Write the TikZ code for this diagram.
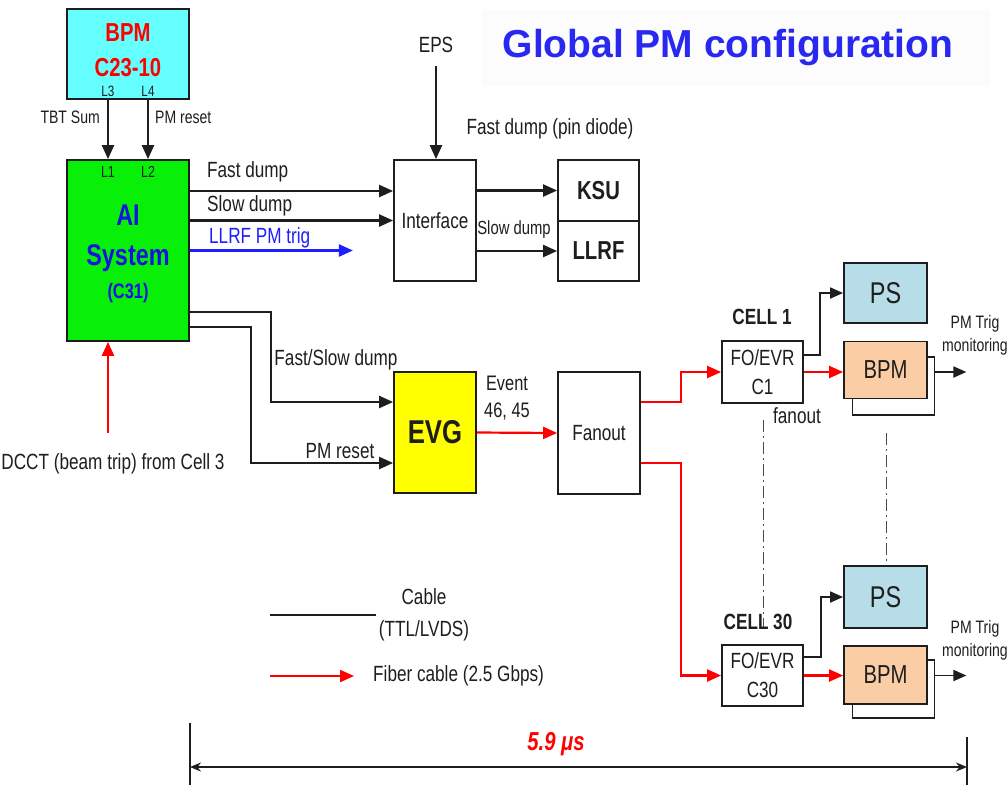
\documentclass[tikz,border=0pt]{standalone}
\usepackage{fontspec}
\setmainfont{Liberation Sans}[FakeStretch=0.78]
\newfontfamily\titlefont{Liberation Sans}
\usetikzlibrary{arrows.meta}
\definecolor{cyanbox}{RGB}{102,255,255}
\definecolor{aigreen}{RGB}{8,240,8}
\definecolor{aiblue}{RGB}{20,20,225}
\definecolor{titleblue}{RGB}{40,40,240}
\definecolor{trigblue}{RGB}{30,30,255}
\definecolor{fred}{RGB}{255,0,0}
\definecolor{psblue}{RGB}{183,221,232}
\definecolor{bpmpeach}{RGB}{251,205,165}
\definecolor{evgyellow}{RGB}{255,255,0}
\definecolor{ink}{RGB}{30,30,30}
\newcommand\fsz[2]{\fontsize{#1}{#2}\selectfont}
\begin{document}
\begin{tikzpicture}[x=1pt,y=-1pt,
  box/.style={draw=ink, line width=1.8pt, inner sep=0pt, text=ink},
  txt/.style={inner sep=0pt, text=ink, align=center},
  arr/.style={draw=ink, line width=2.2pt, -{Triangle[length=14pt,width=12pt]}},
  sarr/.style={draw=ink, line width=1.8pt, -{Triangle[length=13pt,width=11pt]}},
  rarr/.style={draw=fred, line width=2.2pt, -{Triangle[length=14pt,width=12pt]}},
  barr/.style={draw=trigblue, line width=2.2pt, -{Triangle[length=14pt,width=12pt]}},
  wire/.style={draw=ink, line width=2.2pt},
  dd/.style={draw=ink!80, line width=1pt, dash pattern=on 12pt off 4pt on 2pt off 4pt},
  dim/.style={draw=ink, line width=1.8pt, {Stealth[length=11pt,width=9pt]}-{Stealth[length=11pt,width=9pt]}},
  n22/.style={font=\fsz{22}{22}}
]
\fill[white] (0,0) rectangle (1008,785);
\useasboundingbox (0,0) rectangle (1008,785);
\fill[black!1.2] (482,10) rectangle (990,86);

% title
\node[txt, text=titleblue, font=\titlefont\bfseries\fsz{39}{39}] (title) at (728,47) {Global PM configuration};

% top BPM
\node[box, fill=cyanbox, minimum width=122pt, minimum height=90pt] (bpmtop) at (128,54) {};
\node[txt, text=fred, font=\bfseries\fsz{26}{35}] (bpmtxt) at (128,50) {BPM\\C23-10};
\node[txt, font=\fsz{15}{15}] (l3) at (108,91) {L3};
\node[txt, font=\fsz{15}{15}] (l4) at (148,91) {L4};

% AI system
\node[box, fill=aigreen, minimum width=122pt, minimum height=181pt] (ai) at (128,250.5) {};
\node[txt, font=\fsz{16}{16}] (l1) at (108,172) {L1};
\node[txt, font=\fsz{16}{16}] (l2) at (148,172) {L2};
\node[txt, text=aiblue, font=\bfseries\fsz{30}{30}] (ait1) at (128,215) {AI};
\node[txt, text=aiblue, font=\bfseries\fsz{30}{30}] (ait2) at (128,258) {System};
\node[txt, text=aiblue, font=\bfseries\fsz{21}{21}] (ait3) at (128,293) {(C31)};

\draw[arr] (l3 |- bpmtop.south) -- (l1 |- ai.north);
\draw[arr] (l4 |- bpmtop.south) -- (l2 |- ai.north);
\node[txt, font=\fsz{18}{18}, anchor=east] (tbt) at (100,117) {TBT Sum};
\node[txt, font=\fsz{18}{18}, anchor=west] (pmr1) at (155,117) {PM reset};

% interface and KSU/LLRF
\node[box, n22, minimum width=82pt, minimum height=121pt] (iface) at (435,220.5) {Interface};
\node[txt, n22] (eps) at (436,45) {EPS};
\draw[arr] ([yshift=-13pt]eps.south) -- (eps.south |- iface.north);
\node[box, font=\bfseries\fsz{26}{26}, minimum width=81pt, minimum height=61pt] (ksu) at (598.5,190.5) {KSU};
\node[box, font=\bfseries\fsz{26}{26}, minimum width=81pt, minimum height=60pt] (llrf) at (598.5,251) {LLRF};
\node[txt, n22] (pind) at (550,129) {Fast dump (pin diode)};
\node[txt, font=\fsz{19}{19}] (sdsmall) at (514,230) {Slow dump};
\draw[arr] (iface.east |- ksu.west) -- (ksu.west);
\draw[arr] (iface.east |- llrf.west) -- (llrf.west);

\coordinate (fdy) at (0,191);
\draw[arr] (ai.east |- fdy) -- (iface.west |- fdy);
\draw[arr] (ai.east |- iface.west) -- (iface.west);
\draw[barr] (ai.east) -- ++(163,0) coordinate (llrfend);
\node[txt, n22, anchor=west] (fdl) at (207,172) {Fast dump};
\node[txt, n22, anchor=west] (sdl) at (207,206) {Slow dump};
\node[txt, n22, anchor=west, text=trigblue] (trl) at (209,238) {LLRF PM trig};

% EVG and fanout
\node[box, fill=evgyellow, font=\bfseries\fsz{33}{33}, minimum width=82pt, minimum height=121pt] (evg) at (435,432.5) {EVG};
\node[box, n22, minimum width=82pt, minimum height=122pt] (fanout) at (599,433) {Fanout};
\draw[rarr] (evg.east) -- (fanout.west);
\node[txt, font=\fsz{21}{27}] (event) at (507,398) {Event\\46, 45};

\coordinate (k1) at (271,312);
\coordinate (k2) at (0,402);
\coordinate (k3) at (251,327);
\coordinate (k4) at (0,463);
\draw[arr] (ai.east |- k1) -- (k1) |- (evg.west |- k2);
\draw[arr] (ai.east |- k3) -- (k3) |- (evg.west |- k4);
\node[txt, n22] (fsd) at (336,360) {Fast/Slow dump};
\node[txt, n22] (pmr2) at (340,451) {PM reset};

\coordinate (dc) at (108,433);
\draw[rarr] (dc) -- (dc |- ai.south);
\node[txt, n22] (dcct) at (113,464) {DCCT (beam trip) from Cell 3};

% cell 1
\node[txt, font=\bfseries\fsz{22}{22}] (cell1) at (762,317) {CELL 1};
\node[box, font=\fsz{22}{29}, align=center, minimum width=81pt, minimum height=62pt] (fo1) at (762.5,372) {FO/EVR\\C1};
\node[box, fill=psblue, font=\fsz{30}{30}, minimum width=83pt, minimum height=60pt] (ps1) at (885.5,293) {PS};
\node[box, fill=white, minimum width=82pt, minimum height=58pt] (bpmb1) at (893.5,386) {};
\node[box, fill=bpmpeach, font=\fsz{26}{26}, minimum width=83pt, minimum height=57pt] (bpm1) at (885.5,370) {BPM};
\node[txt, font=\fsz{18}{23}] (mon1) at (975,335) {PM Trig\\monitoring};
\node[txt, n22] (fanl) at (797,416) {fanout};
\coordinate (g1) at (820,355);
\draw[sarr] (fo1.east |- g1) -- (g1) |- (ps1.west);
\draw[rarr] (fo1.east) -- (bpm1.west |- fo1.east);
\draw[sarr] (bpmb1.east |- fo1.east) -- ++(31,0) coordinate (m1);

% cell 30
\coordinate (d1a) at (763,420);
\coordinate (d1b) at (763,628);
\coordinate (d2a) at (886,433);
\coordinate (d2b) at (886,562);
\draw[dd] (d1a) -- (d1b);
\draw[dd] (d2a) -- (d2b);
\node[txt, font=\bfseries\fsz{22}{22}] (cell30) at (758,622) {CELL 30};
\node[box, font=\fsz{22}{29}, align=center, minimum width=81pt, minimum height=61pt] (fo30) at (762.5,675.5) {FO/EVR\\C30};
\node[box, fill=psblue, font=\fsz{30}{30}, minimum width=83pt, minimum height=62pt] (ps30) at (885.5,597) {PS};
\node[box, fill=white, minimum width=82pt, minimum height=58pt] (bpmb30) at (893.5,689) {};
\node[box, fill=bpmpeach, font=\fsz{26}{26}, minimum width=83pt, minimum height=58pt] (bpm30) at (885.5,675) {BPM};
\node[txt, font=\fsz{18}{23}] (mon30) at (975,640) {PM Trig\\monitoring};
\coordinate (g2) at (821,657);
\draw[sarr] (fo30.east |- g2) -- (g2) |- (ps30.west);
\draw[rarr] (fo30.east) -- (bpm30.west |- fo30.east);
\draw[sarr] (bpmb30.east |- fo30.east) -- ++(31,0) coordinate (m30);

% fanout to cells
\coordinate (fx1) at (681,402);
\coordinate (fx2) at (681,463);
\draw[rarr] (fanout.east |- fx1) -- (fx1) |- (fo1.west);
\draw[rarr] (fanout.east |- fx2) -- (fx2) |- (fo30.west);

% legend
\coordinate (la) at (270,615);
\coordinate (lb) at (376,615);
\draw[wire] (la) -- (lb);
\node[txt, font=\fsz{22}{32}] (legc) at (424,615) {Cable\\(TTL/LVDS)};
\coordinate (lc) at (270,676);
\coordinate (ld) at (354,676);
\draw[rarr] (lc) -- (ld);
\node[txt, n22, anchor=west] (legf) at (373,676) {Fiber cable (2.5 Gbps)};

% dimension
\coordinate (t1a) at (190,723);
\coordinate (t1b) at (190,785);
\coordinate (t2a) at (967,737);
\coordinate (t2b) at (967,785);
\draw[draw=ink, line width=1.4pt] (t1a) -- (t1b);
\draw[draw=ink, line width=1.4pt] (t2a) -- (t2b);
\coordinate (da) at (190,767);
\coordinate (db) at (967,767);
\draw[dim] (da) -- (db);
\node[txt, text=fred, font=\bfseries\itshape\fsz{26}{26}] (time) at (556,744) {5.9 μs};
\end{tikzpicture}
\end{document}
